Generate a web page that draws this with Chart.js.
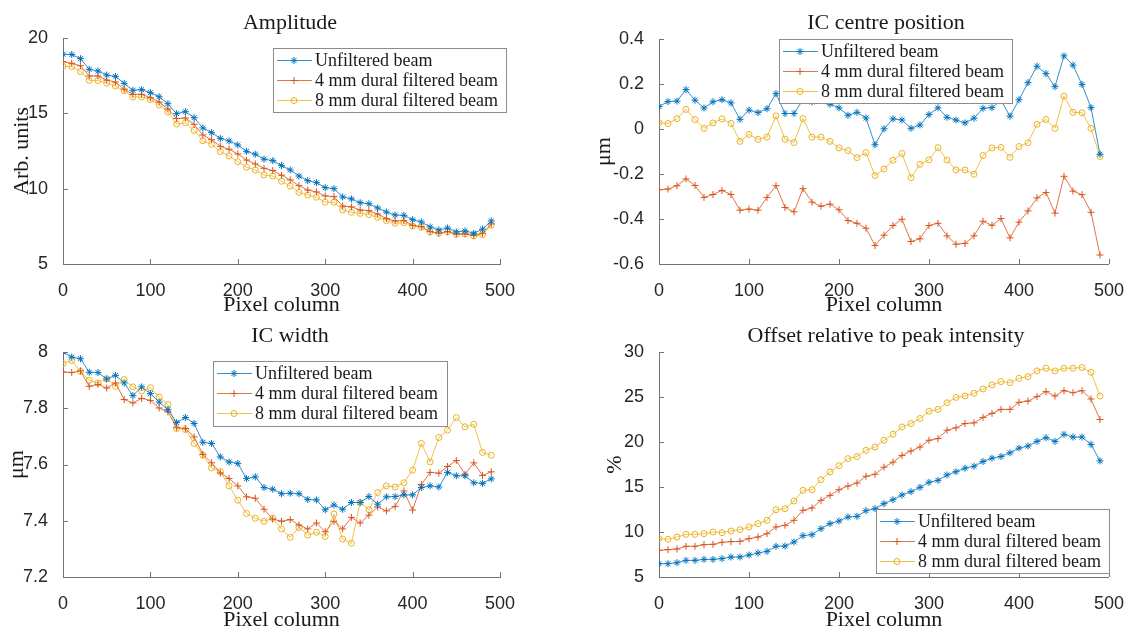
<!DOCTYPE html>
<html>
<head>
<meta charset="utf-8">
<script src="https://cdn.jsdelivr.net/npm/chart.js@4.4.0/dist/chart.umd.min.js"></script>
<style>
  html, body { margin: 0; padding: 0; background: #fff; overflow: hidden; }
  #fig { position: relative; width: 1132px; height: 627px; }
  #fig canvas { position: absolute; }
</style>
</head>
<body>
<div id="fig">
  <canvas id="amplitude" width="566" height="320" style="left:0;top:0"></canvas>
  <canvas id="centre" width="566" height="320" style="left:566px;top:0"></canvas>
  <canvas id="width" width="566" height="320" style="left:0;top:314px"></canvas>
  <canvas id="offset" width="566" height="320" style="left:566px;top:314px"></canvas>
</div>
<script>
var pixelColumn = [0, 10, 20, 30, 40, 50, 60, 70, 80, 90,
  100, 110, 120, 130, 140, 150, 160, 170, 180, 190,
  200, 210, 220, 230, 240, 250, 260, 270, 280, 290,
  300, 310, 320, 330, 340, 350, 360, 370, 380, 390,
  400, 410, 420, 430, 440, 450, 460, 470, 480, 490];

var beamNames = ["Unfiltered beam", "4 mm dural filtered beam", "8 mm dural filtered beam"];

// amplitude, arb. units
var ampUnfiltered = [18.92, 18.90, 18.63, 17.92, 17.81, 17.54, 17.45, 16.99, 16.53, 16.57,
  16.37, 16.10, 15.64, 14.98, 15.11, 14.71, 14.03, 13.72, 13.34, 13.17,
  12.90, 12.48, 12.29, 11.96, 11.86, 11.53, 11.24, 10.84, 10.53, 10.40,
  10.07, 10.00, 9.45, 9.32, 9.07, 9.00, 8.72, 8.45, 8.25, 8.23,
  7.94, 7.79, 7.46, 7.26, 7.39, 7.13, 7.20, 7.04, 7.31, 7.86];
var amp4mm = [18.43, 18.32, 18.16, 17.48, 17.48, 17.21, 17.08, 16.60, 16.26, 16.26,
  16.04, 15.75, 15.29, 14.65, 14.69, 14.27, 13.56, 13.25, 12.81, 12.62,
  12.30, 11.90, 11.64, 11.35, 11.20, 10.89, 10.58, 10.20, 9.91, 9.78,
  9.52, 9.47, 8.85, 8.79, 8.59, 8.54, 8.32, 8.01, 7.86, 7.88,
  7.57, 7.48, 7.15, 7.04, 7.15, 6.99, 7.00, 6.91, 7.04, 7.66];
var amp8mm = [18.12, 18.10, 17.77, 17.19, 17.17, 17.01, 16.81, 16.50, 16.09, 16.09,
  15.91, 15.55, 15.09, 14.29, 14.38, 13.87, 13.18, 12.95, 12.46, 12.17,
  11.79, 11.42, 11.24, 10.91, 10.84, 10.49, 10.18, 9.76, 9.58, 9.43,
  9.10, 9.10, 8.59, 8.43, 8.36, 8.28, 8.10, 7.88, 7.70, 7.75,
  7.52, 7.44, 7.13, 7.04, 7.13, 6.97, 6.99, 6.86, 6.95, 7.57];

// IC centre position, um
var centreUnfiltered = [0.100, 0.122, 0.124, 0.175, 0.128, 0.093, 0.121, 0.130, 0.116, 0.043,
  0.084, 0.073, 0.090, 0.157, 0.069, 0.069, 0.130, 0.120, 0.140, 0.110,
  0.094, 0.061, 0.074, 0.049, -0.070, 0.001, 0.045, 0.040, 0.003, 0.018,
  0.064, 0.094, 0.052, 0.040, 0.027, 0.048, 0.092, 0.095, 0.127, 0.057,
  0.130, 0.206, 0.279, 0.246, 0.188, 0.325, 0.284, 0.198, 0.095, -0.112];
var centre4mm = [-0.270, -0.267, -0.252, -0.222, -0.251, -0.304, -0.291, -0.273, -0.291, -0.361,
  -0.356, -0.361, -0.304, -0.252, -0.349, -0.368, -0.265, -0.325, -0.343, -0.334,
  -0.359, -0.407, -0.419, -0.441, -0.518, -0.472, -0.429, -0.401, -0.500, -0.488,
  -0.429, -0.419, -0.475, -0.512, -0.508, -0.475, -0.410, -0.428, -0.398, -0.484,
  -0.414, -0.364, -0.306, -0.282, -0.374, -0.210, -0.276, -0.292, -0.370, -0.560];
var centre8mm = [0.028, 0.024, 0.046, 0.087, 0.042, 0.003, 0.027, 0.045, 0.025, -0.055,
  -0.024, -0.046, -0.036, 0.058, -0.045, -0.060, 0.046, -0.036, -0.036, -0.055,
  -0.084, -0.096, -0.127, -0.105, -0.207, -0.178, -0.139, -0.109, -0.216, -0.157,
  -0.137, -0.083, -0.138, -0.182, -0.182, -0.201, -0.118, -0.084, -0.082, -0.126,
  -0.078, -0.061, 0.021, 0.042, 0.003, 0.146, 0.074, 0.072, 0.003, -0.122];

// IC width, um
var widthUnfiltered = [8.000, 7.982, 7.976, 7.928, 7.927, 7.904, 7.917, 7.890, 7.845, 7.876,
  7.852, 7.822, 7.795, 7.749, 7.767, 7.746, 7.679, 7.675, 7.627, 7.609,
  7.604, 7.550, 7.556, 7.518, 7.512, 7.496, 7.498, 7.496, 7.476, 7.474,
  7.439, 7.456, 7.441, 7.465, 7.465, 7.486, 7.459, 7.485, 7.486, 7.492,
  7.492, 7.518, 7.524, 7.520, 7.572, 7.560, 7.560, 7.535, 7.533, 7.549];
var width4mm = [7.929, 7.927, 7.933, 7.878, 7.885, 7.872, 7.890, 7.831, 7.819, 7.835,
  7.828, 7.801, 7.787, 7.731, 7.728, 7.698, 7.636, 7.606, 7.570, 7.550,
  7.524, 7.485, 7.480, 7.441, 7.406, 7.398, 7.404, 7.385, 7.371, 7.392,
  7.361, 7.398, 7.371, 7.412, 7.392, 7.420, 7.449, 7.435, 7.451, 7.506,
  7.438, 7.529, 7.572, 7.569, 7.593, 7.614, 7.565, 7.606, 7.561, 7.574];
var width8mm = [7.959, 7.970, 7.931, 7.900, 7.890, 7.905, 7.878, 7.902, 7.876, 7.862,
  7.873, 7.840, 7.813, 7.728, 7.724, 7.675, 7.633, 7.588, 7.575, 7.524,
  7.473, 7.426, 7.409, 7.398, 7.409, 7.371, 7.341, 7.376, 7.349, 7.359,
  7.344, 7.424, 7.335, 7.320, 7.465, 7.439, 7.500, 7.524, 7.520, 7.535,
  7.580, 7.675, 7.609, 7.696, 7.722, 7.767, 7.734, 7.743, 7.643, 7.633];

// offset relative to peak intensity, %
var offsetUnfiltered = [6.48, 6.48, 6.59, 6.85, 6.85, 6.96, 6.96, 7.04, 7.22, 7.22,
  7.44, 7.67, 7.85, 8.41, 8.44, 8.89, 9.59, 9.70, 10.37, 10.93,
  11.22, 11.67, 11.74, 12.37, 12.59, 13.15, 13.59, 14.11, 14.48, 14.96,
  15.52, 15.74, 16.34, 16.70, 17.09, 17.31, 17.83, 18.21, 18.39, 18.80,
  19.32, 19.55, 20.07, 20.48, 20.07, 20.85, 20.55, 20.55, 19.73, 17.90];
var offset4mm = [7.96, 8.04, 8.11, 8.41, 8.41, 8.59, 8.63, 8.85, 8.93, 8.96,
  9.26, 9.44, 9.81, 10.56, 10.74, 11.30, 12.41, 12.67, 13.52, 14.07,
  14.70, 15.11, 15.44, 16.19, 16.41, 17.20, 17.76, 18.51, 19.00, 19.44,
  20.19, 20.38, 21.31, 21.57, 22.05, 22.13, 22.73, 23.18, 23.62, 23.62,
  24.41, 24.55, 25.04, 25.60, 25.11, 25.70, 25.48, 25.70, 24.78, 22.50];
var offset8mm = [9.26, 9.19, 9.44, 9.74, 9.74, 9.81, 10.00, 9.93, 10.11, 10.26,
  10.56, 10.93, 11.30, 12.48, 12.59, 13.44, 14.63, 14.70, 15.81, 16.67,
  17.37, 18.15, 18.38, 19.07, 19.44, 20.19, 20.86, 21.68, 22.05, 22.61,
  23.42, 23.62, 24.36, 24.96, 25.11, 25.41, 25.89, 26.34, 26.71, 26.59,
  27.08, 27.26, 27.90, 28.20, 27.90, 28.20, 28.20, 28.27, 27.74, 25.11];

var columnTicks = [0, 100, 200, 300, 400, 500];
var ampTicks = [5, 10, 15, 20];
var centreTicks = [-0.6, -0.4, -0.2, 0, 0.2, 0.4];
var widthTicks = [7.2, 7.4, 7.6, 7.8, 8];
var offsetTicks = [5, 10, 15, 20, 25, 30];

var lineColors = ["#0072BD", "#D95319", "#EDB120"];
var markers = ["star", "cross", "circle"];
var axisGrey = "#737373";
var textDark = "#1a1a1a";
var serif = "'Liberation Serif', 'Times New Roman', serif";
var sans = "'Liberation Sans', Arial, sans-serif";

// title, inward ticks and boxed legend, drawn the MATLAB way
var matlabLook = {
  id: "matlabLook",
  afterDatasetsDraw: function (chart, args, opts) {
    var ctx = chart.ctx;
    var area = chart.chartArea;
    var xs = chart.scales.x;
    var ys = chart.scales.y;
    ctx.save();

    ctx.strokeStyle = axisGrey;
    ctx.lineWidth = 1;
    ctx.beginPath();
    xs.ticks.forEach(function (t) {
      var px = Math.round(xs.getPixelForValue(t.value)) + 0.5;
      ctx.moveTo(px, area.bottom);
      ctx.lineTo(px, area.bottom - 5);
    });
    ys.ticks.forEach(function (t) {
      var py = Math.round(ys.getPixelForValue(t.value)) + 0.5;
      ctx.moveTo(area.left, py);
      ctx.lineTo(area.left + 5, py);
    });
    ctx.stroke();

    var lg = opts.legend;
    ctx.fillStyle = "#fff";
    ctx.fillRect(lg.x, lg.y, lg.w, lg.h);
    ctx.strokeStyle = "#8c8c8c";
    ctx.lineWidth = 1;
    ctx.strokeRect(lg.x + 0.5, lg.y + 0.5, lg.w - 1, lg.h - 1);
    chart.data.datasets.forEach(function (ds, i) {
      var cy = Math.round(lg.y + 11.5 + i * 20.3) + 0.5;
      ctx.strokeStyle = ds.borderColor;
      ctx.lineWidth = ds.borderWidth;
      ctx.beginPath();
      ctx.moveTo(lg.x + 4, cy);
      ctx.lineTo(lg.x + 39, cy);
      ctx.stroke();
      ctx.fillStyle = ds.pointBackgroundColor;
      ctx.strokeStyle = ds.pointBorderColor;
      ctx.lineWidth = ds.pointBorderWidth;
      Chart.helpers.drawPoint(ctx, {
        pointStyle: ds.pointStyle,
        radius: ds.pointRadius,
        borderWidth: ds.pointBorderWidth,
        rotation: 0
      }, lg.x + 21, cy);
      ctx.fillStyle = textDark;
      ctx.font = "18px " + serif;
      ctx.textAlign = "left";
      ctx.textBaseline = "middle";
      ctx.fillText(ds.label, lg.x + 42, cy + 1);
    });

    ctx.fillStyle = textDark;
    ctx.font = "22px " + serif;
    ctx.textAlign = "center";
    ctx.textBaseline = "alphabetic";
    ctx.fillText(opts.text, opts.titleX, opts.baseline);
    ctx.restore();
  }
};

function beamSeries(values, i) {
  return {
    label: beamNames[i],
    data: pixelColumn.map(function (x, k) { return { x: x, y: values[k] }; }),
    borderColor: lineColors[i],
    borderWidth: 0.8,
    pointStyle: markers[i],
    pointRadius: i === 2 ? 3 : 3.5,
    pointBorderWidth: 1,
    pointBorderColor: lineColors[i],
    pointBackgroundColor: i === 2 ? "rgba(0,0,0,0)" : lineColors[i],
    backgroundColor: "rgba(0,0,0,0)",
    tension: 0,
    fill: false
  };
}

function tickLabel(v) {
  return String(Math.round(v * 100) / 100);
}

function drawPanel(p) {
  var g = p.frame;
  return new Chart(document.getElementById(p.id), {
    type: "line",
    data: { datasets: p.series.map(beamSeries) },
    plugins: [matlabLook],
    options: {
      responsive: false,
      animation: false,
      events: [],
      layout: { padding: { left: 0, top: g.top, right: g.right, bottom: 0 } },
      plugins: {
        legend: { display: false },
        tooltip: { enabled: false },
        matlabLook: { text: p.title, titleX: g.titleX, baseline: g.titleBase, legend: p.legend }
      },
      scales: {
        x: {
          type: "linear",
          min: 0,
          max: 500,
          afterFit: function (s) { s.height = g.xHeight; },
          afterBuildTicks: function (s) {
            s.ticks = columnTicks.map(function (v) { return { value: v }; });
          },
          grid: { display: false },
          border: { display: true, color: axisGrey, width: 1 },
          ticks: {
            font: { family: sans, size: 18 },
            color: "#262626",
            padding: 8,
            maxRotation: 0,
            autoSkip: false,
            callback: tickLabel
          },
          title: {
            display: true,
            text: "Pixel column",
            font: { family: serif, size: 22 },
            color: textDark,
            padding: { top: 0, bottom: g.xTitlePad }
          }
        },
        y: {
          type: "linear",
          min: p.yTicks[0],
          max: p.yTicks[p.yTicks.length - 1],
          afterFit: function (s) { s.width = g.yWidth; },
          afterBuildTicks: function (s) {
            s.ticks = p.yTicks.map(function (v) { return { value: v }; });
          },
          grid: { display: false },
          border: { display: true, color: axisGrey, width: 1 },
          ticks: {
            font: { family: sans, size: 18 },
            color: "#262626",
            padding: 7,
            autoSkip: false,
            callback: tickLabel
          },
          title: {
            display: true,
            text: p.yTitle,
            font: { family: serif, size: 22 },
            color: textDark,
            padding: { top: g.yTitlePad, bottom: 0 }
          }
        }
      }
    }
  });
}

var panels = [
  {
    id: "amplitude", title: "Amplitude", yTitle: "Arb. units",
    series: [ampUnfiltered, amp4mm, amp8mm], yTicks: ampTicks,
    frame: { top: 38, right: 66, yWidth: 63, xHeight: 56, titleX: 290, titleBase: 29, xTitlePad: 2, yTitlePad: 9 },
    legend: { x: 273, y: 48, w: 234, h: 65 }
  },
  {
    id: "centre", title: "IC centre position", yTitle: "\u03bcm",
    series: [centreUnfiltered, centre4mm, centre8mm], yTicks: centreTicks,
    frame: { top: 39, right: 20, yWidth: 93, xHeight: 56, titleX: 320, titleBase: 29, xTitlePad: 2, yTitlePad: 25 },
    legend: { x: 213, y: 39, w: 234, h: 65 }
  },
  {
    id: "width", title: "IC width", yTitle: "\u03bcm",
    series: [widthUnfiltered, width4mm, width8mm], yTicks: widthTicks,
    frame: { top: 38, right: 66, yWidth: 63, xHeight: 57, titleX: 290, titleBase: 28, xTitlePad: 1, yTitlePad: 4 },
    legend: { x: 213, y: 47, w: 235, h: 66 }
  },
  {
    id: "offset", title: "Offset relative to peak intensity", yTitle: "%",
    series: [offsetUnfiltered, offset4mm, offset8mm], yTicks: offsetTicks,
    frame: { top: 38, right: 20, yWidth: 93, xHeight: 57, titleX: 320, titleBase: 28, xTitlePad: 1, yTitlePad: 36 },
    legend: { x: 310, y: 195, w: 234, h: 65 }
  }
];

panels.forEach(drawPanel);
</script>
</body>
</html>
